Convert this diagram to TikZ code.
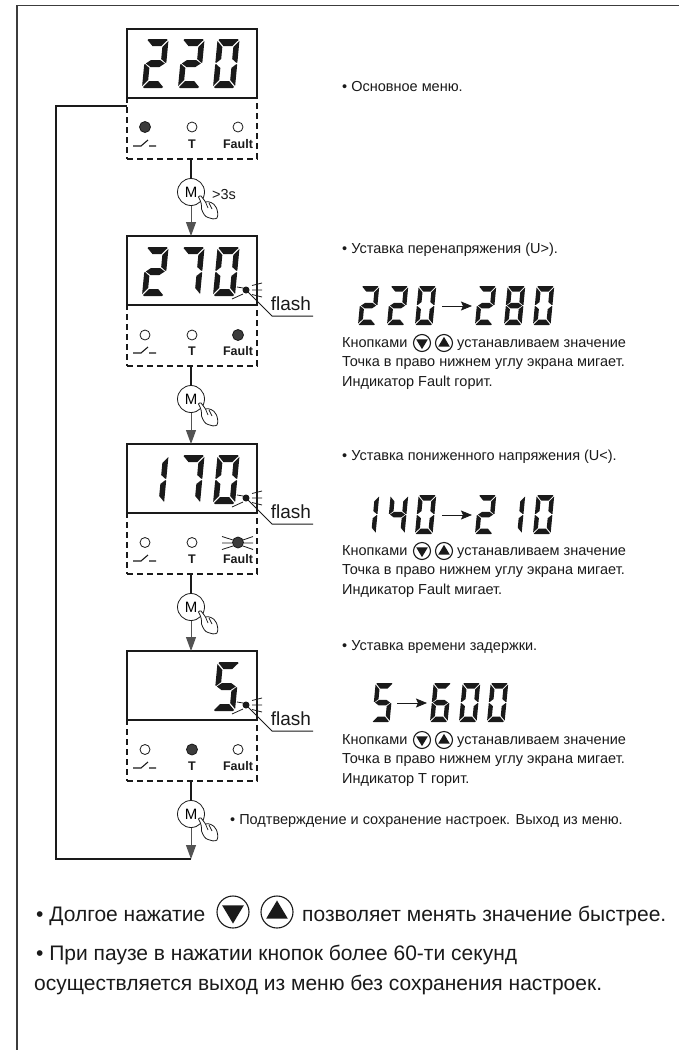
\documentclass[tikz,border=0pt]{standalone}
\usepackage{fontspec}
\setmainfont{Liberation Sans}
\usetikzlibrary{arrows.meta}
\definecolor{ink}{HTML}{1A1A1A}
\definecolor{ledc}{HTML}{3C3C3C}
\tikzset{
  x=1pt,y=-1pt,
  disp/.style={draw=ink,line width=1.4pt,minimum width=130pt,minimum height=69pt,inner sep=0pt},
  panel/.style={draw=ink,line width=1.2pt,dash pattern=on 6pt off 4pt,minimum width=130pt,minimum height=61pt,inner sep=0pt},
  mbtn/.style={circle,draw=ink,line width=.8pt,minimum size=27pt,inner sep=0pt,font=\fontsize{15}{15}\selectfont,fill=white},
  ledoff/.style={circle,draw=ink,line width=.8pt,minimum size=10pt,inner sep=0pt,fill=white},
  ledon/.style={circle,draw=ink,line width=.8pt,minimum size=11pt,inner sep=0pt,fill=ledc},
  leg/.style={font=\fontsize{12.5}{12.5}\bfseries\selectfont,text=ink,inner sep=0pt},
  body/.style={anchor=base west,inner sep=0pt,font=\fontsize{14.5}{14.5}\selectfont,text=ink},
  big/.style={anchor=base west,inner sep=0pt,font=\fontsize{21}{21}\selectfont,text=ink},
  flashl/.style={anchor=base,inner sep=0pt,font=\fontsize{19}{19}\selectfont,text=ink},
  gt/.style={anchor=base west,inner sep=0pt,font=\fontsize{14.5}{14.5}\selectfont,text=ink},
  thick1/.style={draw=ink,line width=1.4pt},
  thin1/.style={draw=ink!75,line width=1pt,-{Triangle[width=10pt,length=14pt]}},
  rayl/.style={draw=ink,line width=.8pt},
  tinyarrow/.style={draw=ink,line width=.8pt,-{Stealth[length=11pt,width=9pt,inset=2pt]}}
}
% seven segments, local frame W=22 H=49
\newcommand{\sga}{\fill[ink] (2,0)--(20,0)--(21,1)--(15.5,7)--(6.5,7)--(1,1)--cycle;}
\newcommand{\sgd}{\fill[ink] (2,49)--(20,49)--(21,48)--(15.5,42)--(6.5,42)--(1,48)--cycle;}
\newcommand{\sgf}{\fill[ink] (0,2)--(5.5,8)--(5.5,20)--(1,23.8)--(0,23.5)--cycle;}
\newcommand{\sgb}{\fill[ink] (22,2)--(16.5,8)--(16.5,20)--(21,23.8)--(22,23.5)--cycle;}
\newcommand{\sge}{\fill[ink] (0,47)--(5.5,41)--(5.5,29)--(1,25.2)--(0,25.5)--cycle;}
\newcommand{\sgc}{\fill[ink] (22,47)--(16.5,41)--(16.5,29)--(21,25.2)--(22,25.5)--cycle;}
\newcommand{\sgg}{\fill[ink] (1.5,24.5)--(6.5,21)--(15.5,21)--(20.5,24.5)--(15.5,28)--(6.5,28)--cycle;}
\newcommand{\dzero}{\sga\sgb\sgc\sgd\sge\sgf}
\newcommand{\done}{\sgb\sgc}
\newcommand{\dtwo}{\sga\sgb\sgg\sge\sgd}
\newcommand{\dfour}{\sgf\sgg\sgb\sgc}
\newcommand{\dfive}{\sga\sgf\sgg\sgc\sgd}
\newcommand{\dsix}{\sga\sgf\sgg\sge\sgc\sgd}
\newcommand{\dseven}{\sga\sgb\sgc}
\newcommand{\deight}{\sga\sgb\sgc\sgd\sge\sgf\sgg}
% #1 x of lower-left, #2 y top, #3 scale, #4 digit
\newcommand{\digitat}[4]{\begin{scope}[shift={(#1+4.6*#3,#2)},xslant=.095,scale=#3]#4\end{scope}}
\newcommand{\bigdigits}[4]{\digitat{142}{#1}{1}{#2}\digitat{178}{#1}{1}{#3}\digitat{213}{#1}{1}{#4}}
\newcommand{\smalld}[3]{\digitat{#1}{#2}{.8}{#3}}
% switch symbol: #1 = y of the lower stroke
\newcommand{\switchsym}[1]{\draw[draw=ink,line width=1.1pt] (133,#1)--(141,#1)--(148,#1-6) (149,#1)--(156,#1);}
% display + panel
\newcommand{\stage}[2]{%
  \node[disp] (disp#1) at (192,#2+34.5) {};
  \node[panel] (panel#1) at (192,#2+99.5) {};
  \switchsym{#2+117}
  \node[leg] (legT#1) at (192,#2+115.5) {T};
  \node[leg] (legF#1) at (238,#2+115.5) {Fault};
}
% flash dot on display with callout
\newcommand{\flashdot}[2]{%
  \node[circle,fill=ink,minimum size=7pt,inner sep=0pt] (dot#1) at (246,#2+54) {};
  \coordinate (knee#1) at (272,#2+80);
  \coordinate (end#1) at (313,#2+80);
  \draw[draw=ink,line width=1pt] (dot#1.center)--(knee#1)--(end#1);
  \node[flashl] (fl#1) at (291,#2+74) {flash};
  \draw[rayl] (252,#2+49.5)--(262,#2+47) (252,#2+54)--(262,#2+54) (252,#2+58.5)--(262,#2+61)
     (232,#2+63)--(243,#2+58) (237,#2+51)--(243,#2+52);
}
% hand at the lower right of an M button
\newcommand{\handat}[1]{\begin{scope}[shift={(#1.center)}]
  \draw[draw=ink,line width=.8pt,fill=white,line join=round]
    (7.5,5) .. controls (10,9) and (11,14) .. (10.5,17)
    .. controls (12,21) and (14,25) .. (17,25.5)
    .. controls (20,27) and (24,27.5) .. (26,26)
    .. controls (27.5,23) and (26.5,19) .. (25.5,16)
    .. controls (24,13) and (22,11) .. (20,10.5)
    .. controls (18,9.5) and (16,9.5) .. (14.5,10)
    .. controls (13,8) and (11.5,5.5) .. (10,4)
    .. controls (9,3.5) and (8,4) .. (7.5,5) -- cycle;
  \draw[draw=ink,line width=.7pt] (14.5,10) -- (17,16) (18,11) -- (21,17);
\end{scope}}
% up/down buttons
\newcommand{\btn}[5]{% name,x,y,radius,dir(+1 down,-1 up)
  \node[circle,draw=ink,line width=1.1pt,minimum size=#4*2pt,inner sep=0pt] (#1) at (#2,#3) {};
  \fill[ink] (#2-.68*#4,#3-#5*.42*#4)--(#2+.68*#4,#3-#5*.42*#4)--(#2,#3+#5*.72*#4)--cycle;
}
\newcommand{\hint}[3]{% y of line one, name prefix, third line
  \node[body] (#2a) at (342,#1) {Кнопками};
  \btn{#2dn}{422}{#1-4}{8.5}{1}
  \btn{#2up}{444}{#1-4}{8.5}{-1}
  \node[body] (#2b) at (457,#1) {устанавливаем значение};
  \node[body] (#2c) at (342,#1+19.5) {Точка в право нижнем углу экрана мигает.};
  \node[body] (#2d) at (342,#1+39) {#3};
}
\begin{document}
\begin{tikzpicture}
\useasboundingbox (0,0) rectangle (679,1050);
\fill[white] (0,0) rectangle (679,1050);
% page edge lines
\coordinate (ptl) at (17,5.5);
\coordinate (ptr) at (679,5.5);
\coordinate (pbl) at (17,1050);
\draw[draw=ink!85,line width=1.3pt] (ptr)--(ptl)--(pbl);

% stages
\stage{1}{29}
\stage{2}{236}
\stage{3}{444}
\stage{4}{651}

% digits
\bigdigits{39}{\dtwo}{\dtwo}{\dzero}
\bigdigits{247}{\dtwo}{\dseven}{\dzero}
\bigdigits{455}{\done}{\dseven}{\dzero}
\digitat{213}{662}{1}{\dfive}

% LEDs
\node[ledon] (a1) at (145,127) {}; \node[ledoff] (b1) at (192,127) {}; \node[ledoff] (c1) at (238,127) {};
\node[ledoff] (a2) at (145,335) {}; \node[ledoff] (b2) at (192,335) {}; \node[ledon] (c2) at (238,335) {};
\node[ledoff] (a3) at (145,542.5) {}; \node[ledoff] (b3) at (192,542.5) {}; \node[ledon] (c3) at (238,542.5) {};
\node[ledoff] (a4) at (145,749.5) {}; \node[ledon] (b4) at (192,749.5) {}; \node[ledoff] (c4) at (238,749.5) {};
\draw[rayl] (222,536.5)--(233,540) (222,543)--(232,543) (222,549.5)--(233,546)
            (243,540)--(253,536.5) (244,543)--(253,543) (243,546)--(253,549.5);

% flash
\flashdot{2}{236}
\flashdot{3}{444}
\flashdot{4}{651}

% M buttons and connectors
\node[mbtn] (m1) at (191,192) {M};
\node[mbtn] (m2) at (191,399) {M};
\node[mbtn] (m3) at (191,607) {M};
\node[mbtn] (m4) at (191,814) {M};
\coordinate (p1) at (191,160); \coordinate (p2) at (191,367); \coordinate (p3) at (191,575); \coordinate (p4) at (191,782);
\coordinate (t2) at (191,236); \coordinate (t3) at (191,444); \coordinate (t4) at (191,651);
\coordinate (endp) at (191,859);
\coordinate (rb) at (56,859);
\coordinate (rt) at (56,106);
\coordinate (r1) at (127,106);
\draw[thick1] (p1)--(m1.north);
\draw[thick1] (p2)--(m2.north);
\draw[thick1] (p3)--(m3.north);
\draw[thick1] (p4)--(m4.north);
\draw[thin1] (m1.south)--(t2);
\draw[thin1] (m2.south)--(t3);
\draw[thin1] (m3.south)--(t4);
\draw[thin1] (m4.south)--(endp);
\draw[draw=ink,line width=1.5pt] (endp)--(rb)--(rt)--(r1);
\handat{m1}\handat{m2}\handat{m3}\handat{m4}
\node[gt] (gt3) at (212,199) {>3s};

% right column
\node[body] (t1) at (342,91) {• Основное меню.};
\node[body] (t2a) at (342,253) {• Уставка перенапряжения (U>).};
\node[body] (t3a) at (342,460) {• Уставка пониженного напряжения (U<).};
\node[body] (t4a) at (342,650) {• Уставка времени задержки.};
\node[body] (t5a) at (230,824) {• Подтверждение и сохранение настроек. Выход из меню.};

% small counters
\smalld{358}{286}{\dtwo}\smalld{387}{286}{\dtwo}\smalld{415}{286}{\dzero}
\coordinate (ar2a) at (442,306); \coordinate (ar2b) at (472,306);
\draw[tinyarrow] (ar2a)--(ar2b);
\smalld{475}{286}{\dtwo}\smalld{504}{286}{\deight}\smalld{533}{286}{\dzero}

\smalld{358}{495}{\done}\smalld{387}{495}{\dfour}\smalld{415}{495}{\dzero}
\coordinate (ar3a) at (442,515); \coordinate (ar3b) at (472,515);
\draw[tinyarrow] (ar3a)--(ar3b);
\smalld{475}{495}{\dtwo}\smalld{504}{495}{\done}\smalld{533}{495}{\dzero}

\smalld{372}{683}{\dfive}
\coordinate (ar4a) at (397,703); \coordinate (ar4b) at (427,703);
\draw[tinyarrow] (ar4a)--(ar4b);
\smalld{430}{683}{\dsix}\smalld{459}{683}{\dzero}\smalld{487}{683}{\dzero}

\hint{347}{h2}{Индикатор Fault горит.}
\hint{555}{h3}{Индикатор Fault мигает.}
\hint{744}{h4}{Индикатор T горит.}

% bottom notes
\node[big] (n1) at (36,921) {• Долгое нажатие};
\btn{bd}{233}{912}{16}{1}
\btn{bu}{277}{912}{16}{-1}
\node[big] (n2) at (302,921) {позволяет менять значение быстрее.};
\node[big] (n3) at (36,960) {• При паузе в нажатии кнопок более 60-ти секунд};
\node[big] (n4) at (34,990) {осуществляется выход из меню без сохранения настроек.};
\end{tikzpicture}
\end{document}
